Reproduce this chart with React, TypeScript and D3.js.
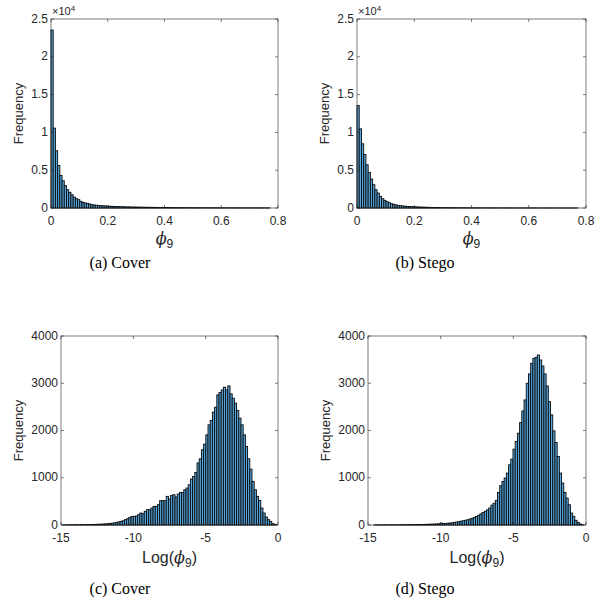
import React from 'react';
import * as d3 from 'd3';

// bin counts (left to right)
const coverRawCounts = [
  23540, 10560, 7570, 5630, 4310, 3610, 2950, 2420, 2070, 1760, 1450, 1230, 1100, 880, 750, 660, 616, 530, 440, 400,
  370, 340, 310, 290, 270, 250, 235, 220, 205, 195, 185, 175, 165, 155, 148, 140, 133, 127, 120, 114,
  108, 103, 98, 93, 89, 85, 81, 77, 74, 71, 68, 65, 62, 60, 57, 55, 53, 51, 49, 47,
  45, 44, 42, 41, 39, 38, 37, 36, 34, 33, 32, 31, 30, 29, 28, 28, 27, 26, 25, 25,
  24, 23, 23, 22, 21, 21, 20, 20, 19, 19, 18, 18, 17, 17, 16, 16, 15, 15, 14,
];
const stegoRawCounts = [
  13550, 10470, 8490, 7080, 5720, 4710, 3830, 3080, 2420, 1980, 1540, 1230, 1010, 840, 700, 570, 480, 400, 350, 310,
  270, 240, 215, 195, 175, 160, 145, 132, 120, 110, 100, 92, 85, 78, 72, 66, 61, 57, 53, 49,
  46, 43, 40, 38, 36, 34, 32, 30, 29, 27, 26, 25, 24, 23, 22, 21, 20, 19, 18, 18,
  17, 16, 16, 15, 15, 14, 14, 13, 13, 12, 12, 12, 11, 11, 11, 10, 10, 10, 9, 9,
  9, 9, 8, 8, 8, 8, 7, 7, 7, 7, 7, 6, 6, 6, 6, 6, 5, 5, 5,
];
const coverLogCounts = [
  3, 4, 4, 5, 5, 6, 6, 7, 8, 8, 9, 10, 11, 12, 13, 14, 16, 18, 20, 23, 27, 32, 38, 46, 56, 66,
  77, 91, 113, 134, 162, 183, 183, 190, 218, 253, 240, 289, 324, 324, 359, 394, 394, 430, 514, 514, 514,
  606, 549, 627, 641, 592, 655, 690, 690, 746, 782, 852, 972, 1028,
  1113, 1313, 1401, 1592, 1711, 1908, 2120, 2211, 2387, 2493, 2754, 2803, 2859, 2915, 2859, 2944, 2775,
  2683, 2578, 2423, 2261, 2120, 1908, 1662, 1401, 1183, 923, 746, 606, 521, 359, 253, 169, 113, 77, 28, 14,
];
const stegoLogCounts = [
  2, 2, 3, 3, 3, 4, 4, 4, 5, 5, 5, 6, 6, 7, 7, 8, 8, 9, 9, 10, 11, 12,
  12, 13, 15, 16, 18, 20, 22, 25, 40, 30, 33, 37, 42, 48, 55, 62, 70, 80, 90, 100, 110, 125, 140, 160,
  180, 205, 235, 265, 290, 320, 360, 420, 460,
  521, 690, 831, 922, 993, 1098, 1274, 1394, 1605, 1767, 1943, 2168, 2415, 2647, 2999, 3197, 3421, 3527,
  3548, 3597, 3492, 3365, 3197, 2943, 2612, 2330, 1992, 1746, 1450, 1098, 887, 690, 570, 429, 253, 183,
  99, 56, 21, 7,
];

// bin edges: first edge and bin width
const coverRawBins = [0, 0.0078];
const stegoRawBins = [0, 0.0078];
const coverLogBins = [-14.87, 0.152];
const stegoLogBins = [-14.6, 0.152];

const rawTicksX = [0, 0.2, 0.4, 0.6, 0.8];
const rawTicksY = [0, 5000, 10000, 15000, 20000, 25000];
const logTicksX = [-15, -10, -5, 0];
const logTicksY = [0, 1000, 2000, 3000, 4000];

const SANS = 'Liberation Sans, Arial, Helvetica, sans-serif';
const SERIF = 'Liberation Serif, Times New Roman, serif';
const PHI_FONT = 'DejaVu Serif, Liberation Serif, serif';
const INK = '#262626';

type HistProps = {
  counts: number[];
  bins: number[];
  xDomain: [number, number];
  yDomain: [number, number];
  xTicks: number[];
  yTicks: number[];
  yFmt: (v: number) => string;
  xFmt: (v: number) => string;
  left: number;
  top: number;
  width: number;
  height: number;
  exponent?: boolean;
  logLabel?: boolean;
};

function Histogram(p: HistProps) {
  const x = d3.scaleLinear().domain(p.xDomain).range([p.left, p.left + p.width]);
  const y = d3.scaleLinear().domain(p.yDomain).range([p.top + p.height, p.top]);
  const [b0, bw] = p.bins;
  const tick = 3;
  const bottom = p.top + p.height;
  const right = p.left + p.width;

  return (
    <g>
      {/* bars */}
      <g fill="#55a7de" stroke="#0a0a0a" strokeWidth={0.9}>
        {p.counts.map((c, i) => {
          const x0 = x(b0 + i * bw);
          const x1 = x(b0 + (i + 1) * bw);
          return (
            <rect key={i} x={x0} y={y(c)} width={Math.max(0, x1 - x0)} height={bottom - y(c)} />
          );
        })}
      </g>

      {/* box */}
      <rect x={p.left} y={p.top} width={p.width} height={p.height} fill="none" stroke={INK} strokeWidth={0.6} />

      {/* x ticks */}
      {p.xTicks.map((t) => (
        <g key={'x' + t}>
          <line x1={x(t)} x2={x(t)} y1={bottom} y2={bottom - tick} stroke={INK} strokeWidth={0.6} />
          <line x1={x(t)} x2={x(t)} y1={p.top} y2={p.top + tick} stroke={INK} strokeWidth={0.6} />
          <text x={x(t)} y={bottom + 17} textAnchor="middle" fontSize={12} fontFamily={SANS} fill={INK}>
            {p.xFmt(t)}
          </text>
        </g>
      ))}

      {/* y ticks */}
      {p.yTicks.map((t) => (
        <g key={'y' + t}>
          <line x1={p.left} x2={p.left + tick} y1={y(t)} y2={y(t)} stroke={INK} strokeWidth={0.6} />
          <line x1={right} x2={right - tick} y1={y(t)} y2={y(t)} stroke={INK} strokeWidth={0.6} />
          <text x={p.left - 3} y={y(t) + 3.5} textAnchor="end" fontSize={12} fontFamily={SANS} fill={INK}>
            {p.yFmt(t)}
          </text>
        </g>
      ))}

      {p.exponent && (
        <text x={p.left + 1} y={p.top - 4} fontSize={11} fontFamily={SANS} fill={INK}>
          ×10<tspan dy={-4} fontSize={8}>4</tspan>
        </text>
      )}

      {/* y label */}
      <text
        transform={`translate(${p.left - (p.logLabel ? 38 : 28)},${p.top + p.height / 2}) rotate(-90)`}
        textAnchor="middle"
        fontSize={13}
        fontFamily={SANS}
        fill={INK}
      >
        Frequency
      </text>

      {/* x label */}
      {p.logLabel ? (
        <text x={p.left + p.width / 2} y={bottom + 38} textAnchor="middle" fontSize={16} fontFamily={SANS} fill={INK}>
          Log(<tspan fontFamily={PHI_FONT} fontStyle="italic">ϕ</tspan>
          <tspan dy={4} fontSize={12}>9</tspan>
          <tspan dy={-4}>)</tspan>
        </text>
      ) : (
        <text x={p.left + p.width / 2} y={bottom + 36} textAnchor="middle" fontSize={16} fontFamily={PHI_FONT} fill={INK}>
          <tspan fontStyle="italic">ϕ</tspan>
          <tspan dy={4} fontSize={12} fontFamily={SANS}>9</tspan>
        </text>
      )}
    </g>
  );
}

const rawFmt = (v: number) => (v === 0 ? '0' : d3.format('.1f')(v));
const rawYFmt = (v: number) => String(v / 10000);
const intFmt = (v: number) => String(v);

export default function App() {
  return (
    <svg
      width={608}
      height={616}
      style={{ position: 'absolute', left: 0, top: 0, background: '#fff' }}
    >
      <Histogram
        counts={coverRawCounts}
        bins={coverRawBins}
        xDomain={[0, 0.8]}
        yDomain={[0, 25000]}
        xTicks={rawTicksX}
        yTicks={rawTicksY}
        xFmt={rawFmt}
        yFmt={rawYFmt}
        left={51}
        top={19}
        width={227}
        height={189}
        exponent
      />
      <Histogram
        counts={stegoRawCounts}
        bins={stegoRawBins}
        xDomain={[0, 0.8]}
        yDomain={[0, 25000]}
        xTicks={rawTicksX}
        yTicks={rawTicksY}
        xFmt={rawFmt}
        yFmt={rawYFmt}
        left={357}
        top={19}
        width={229}
        height={189}
        exponent
      />
      <Histogram
        counts={coverLogCounts}
        bins={coverLogBins}
        xDomain={[-15, 0]}
        yDomain={[0, 4000]}
        xTicks={logTicksX}
        yTicks={logTicksY}
        xFmt={intFmt}
        yFmt={intFmt}
        left={61}
        top={336}
        width={217}
        height={189}
        logLabel
      />
      <Histogram
        counts={stegoLogCounts}
        bins={stegoLogBins}
        xDomain={[-15, 0]}
        yDomain={[0, 4000]}
        xTicks={logTicksX}
        yTicks={logTicksY}
        xFmt={intFmt}
        yFmt={intFmt}
        left={368}
        top={336}
        width={218}
        height={189}
        logLabel
      />

      {/* captions */}
      <g fontFamily={SERIF} fontSize={16} fill="#000" textAnchor="middle">
        <text x={120} y={268}>(a)  Cover</text>
        <text x={425} y={268}>(b)  Stego</text>
        <text x={120} y={594}>(c)  Cover</text>
        <text x={425} y={594}>(d)  Stego</text>
      </g>
    </svg>
  );
}
